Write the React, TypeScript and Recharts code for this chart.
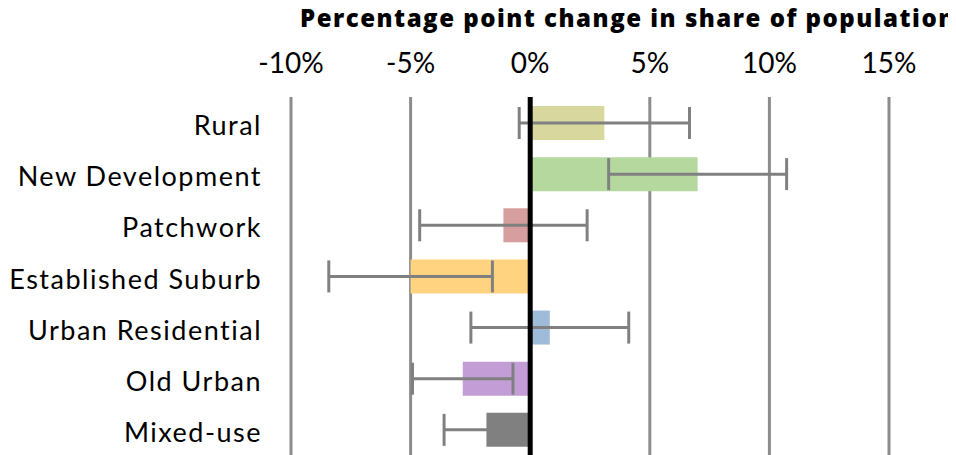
import React from "react";
import {
  BarChart,
  Bar,
  XAxis,
  YAxis,
  CartesianGrid,
  ReferenceLine,
  ErrorBar,
  Cell,
} from "recharts";

const categories = [
  "Rural",
  "New Development",
  "Patchwork",
  "Established Suburb",
  "Urban Residential",
  "Old Urban",
  "Mixed-use",
];
const changeValues = [3.1, 7.0, -1.12, -5.0, 0.82, -2.82, -1.83];
const errorValues = [3.56, 3.72, 3.5, 3.42, 3.3, 2.1, 1.77];
const barColors = [
  "#d8d79e",
  "#b5d89f",
  "#d69e9e",
  "#ffd37f",
  "#9ebcda",
  "#c39ed6",
  "#808080",
];
const xTicks = [-10, -5, 0, 5, 10, 15];
const titleText = "Percentage point change in share of population";

const data = categories.map((name, i) => ({
  name,
  value: changeValues[i],
  err: errorValues[i],
}));

const FONT = "Lato, 'Noto Sans', sans-serif";
const TITLE_FONT = "'Open Sans', Lato, sans-serif";

export default function App() {
  return (
    <div style={{ position: "relative", width: 948, height: 447, overflow: "hidden" }}>
      <svg
        width={948}
        height={40}
        style={{ position: "absolute", left: 0, top: 0, overflow: "hidden" }}
      >
        <text
          x={292}
          y={19}
          fontFamily={TITLE_FONT}
          fontWeight={800}
          fontSize={24}
          letterSpacing={1.5}
          fill="#000"
        >
          {titleText}
        </text>
      </svg>
      <BarChart
        width={948}
        height={447}
        data={data}
        layout="vertical"
        margin={{ top: 0, right: 67, bottom: 0, left: 0 }}
        barCategoryGap={0}
      >
        <CartesianGrid horizontal={false} stroke="#8c8c8c" strokeWidth={3} />
        <XAxis
          type="number"
          orientation="top"
          domain={[-10, 15]}
          ticks={xTicks}
          tickFormatter={(v: number) => `${v}%`}
          axisLine={false}
          tickLine={false}
          tickSize={0}
          tickMargin={24}
          height={89}
          interval={0}
          tick={{ fontFamily: FONT, fontSize: 28, fill: "#000" }}
        />
        <YAxis
          type="category"
          dataKey="name"
          width={283}
          axisLine={false}
          tickLine={false}
          tickSize={0}
          tickMargin={29}
          interval={0}
          tick={{ fontFamily: FONT, fontSize: 27, fill: "#000", dy: 3, letterSpacing: 1.5 }}
        />
        <Bar dataKey="value" barSize={34} isAnimationActive={false}>
          {data.map((d, i) => (
            <Cell key={d.name} fill={barColors[i]} />
          ))}
          <ErrorBar
            dataKey="err"
            direction="x"
            stroke="#808080"
            strokeWidth={3}
            width={16}
            isAnimationActive={false}
          />
        </Bar>
        <ReferenceLine x={0} stroke="#000" strokeWidth={5} />
      </BarChart>
    </div>
  );
}
